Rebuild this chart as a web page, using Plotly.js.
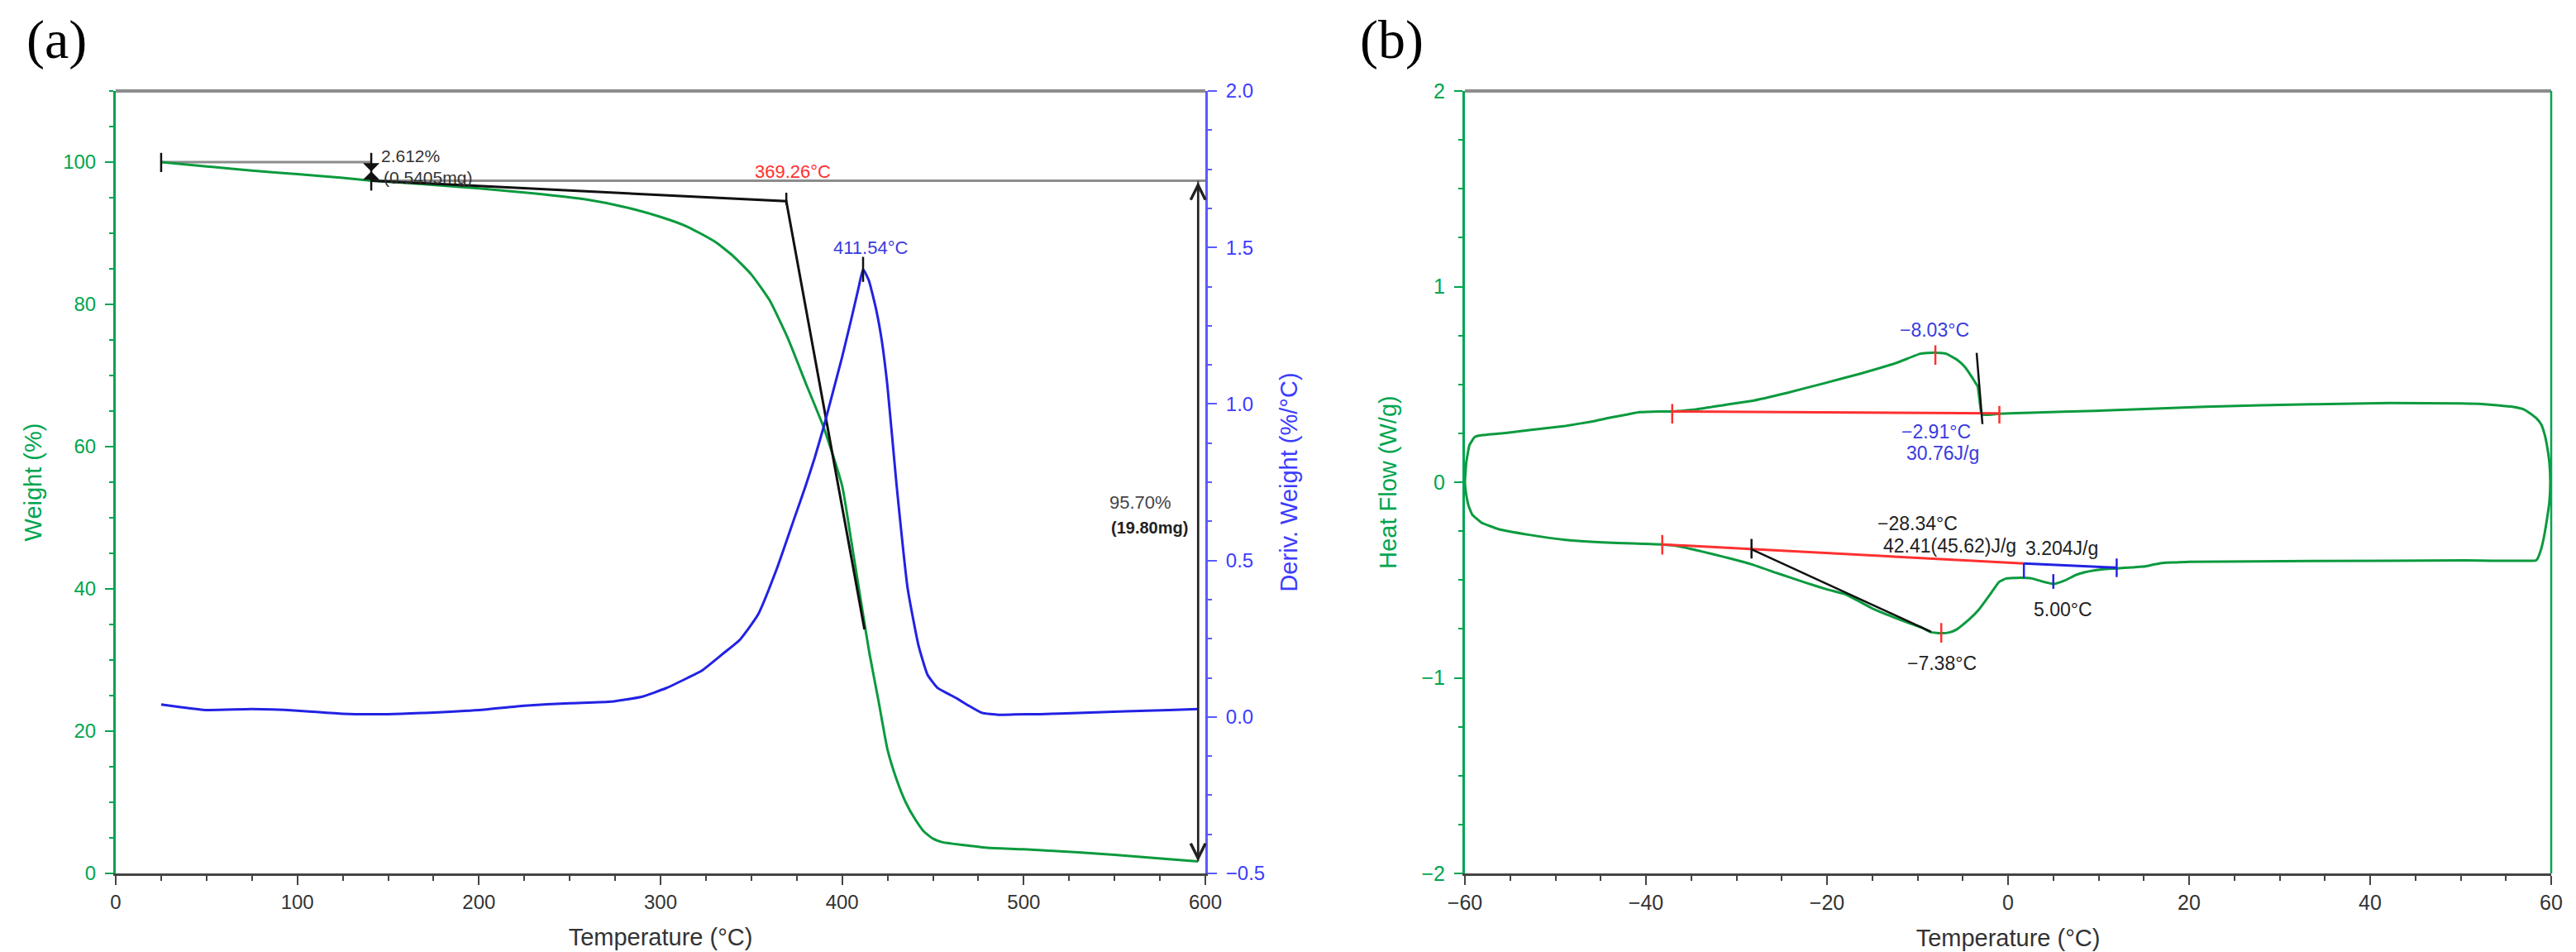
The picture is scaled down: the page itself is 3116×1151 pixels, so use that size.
<!DOCTYPE html>
<html><head><meta charset="utf-8">
<script src="https://cdn.plot.ly/plotly-3.0.1.min.js"></script>
<style>html,body{margin:0;padding:0;background:#fff;} #chart{width:3116px;height:1151px;}</style>
</head><body><div id="chart"></div>
<script>
// ================= DATA =================
// Panel (a): TGA weight curve
const tgaTemp   = [25, 50, 75, 100, 125, 140.7, 170, 200, 230, 260, 280, 300, 315, 330, 340, 350, 360, 370, 380, 390, 400, 405, 410, 415, 420, 425, 430, 435, 440, 445, 450, 455, 460, 470, 480, 500, 520, 540, 560, 580, 596];
const tgaWeight = [100, 99.4, 98.8, 98.3, 97.8, 97.4, 96.9, 96.3, 95.6, 94.7, 93.7, 92.3, 90.9, 88.8, 86.8, 84.2, 80.6, 75.3, 68.9, 62.6, 54.5, 46.8, 38.8, 31.0, 24.3, 17.4, 13.2, 10.0, 7.7, 5.9, 4.9, 4.4, 4.2, 3.9, 3.6, 3.4, 3.1, 2.8, 2.4, 2.0, 1.7];
// Panel (a): DTG derivative curve
const dtgTemp  = [25, 35, 50, 75, 100, 125, 150, 170, 200, 225, 250, 273, 290, 303, 315, 323, 335, 343.6, 353.7, 364, 374, 380, 385, 390, 395, 400, 405, 409, 411.54, 414.7, 418.8, 421.9, 424.9, 430, 436.1, 442, 447, 452.5, 458, 463.5, 470, 477, 486, 495, 509, 530, 556, 580, 596];
const dtgDeriv = [0.040, 0.032, 0.022, 0.025, 0.020, 0.010, 0.009, 0.013, 0.022, 0.036, 0.044, 0.049, 0.065, 0.092, 0.125, 0.149, 0.205, 0.246, 0.327, 0.473, 0.640, 0.740, 0.830, 0.930, 1.040, 1.150, 1.270, 1.370, 1.430, 1.395, 1.300, 1.200, 1.060, 0.740, 0.410, 0.230, 0.135, 0.093, 0.075, 0.058, 0.035, 0.013, 0.007, 0.008, 0.009, 0.013, 0.018, 0.022, 0.025];
// Panel (a): analysis marks
const onsetLineTemp   = [140.7, 369.26, 412.3];
const onsetLineWeight = [97.39, 94.5, 34.3];
const step1LineTemp   = [25, 140.7];
const step1LineWeight = [100, 100];
const step2LineTemp   = [140.7, 600];
const step2LineWeight = [97.39, 97.39];
const step1ArrowTemp  = 140.7;
const step1Levels     = [100, 97.39];
const residueTemp     = 596;
const residueLevels   = [97.39, 1.7];
const tgaMarkTemp = [25, 140.7, 369.26];
const tgaMarkLow  = [98.6, 96.0, 94.0];
const tgaMarkHigh = [101.3, 101.3, 95.7];
const dtgMarkTemp = [411.54];
const dtgMarkLow  = [1.39];
const dtgMarkHigh = [1.47];
// Panel (a): text labels
const tgaLabelText = ['369.26°C', '2.612%', '(0.5405mg)', '95.70%', '(19.80mg)'];
const tgaLabelTemp = [373, 145.2, 146.6, 546.3, 547.2];
const tgaLabelVal  = [98.7, 100.9, 97.8, 52.1, 48.6];
const dtgLabelText = ['411.54°C'];
const dtgLabelTemp = [415.6];
const dtgLabelVal  = [1.50];

// Panel (b): DSC loop (upper branch left->right, then lower branch right->left)
const dscTemp = [-60.0, -59.85, -59.5, -58.9, -58.2, -55.5, -52.9, -48.9, -46, -44, -42, -40.7, -38.5, -37.0, -34.5, -32.6, -28.5, -24.4, -20.3, -16.3, -12.2, -9.7, -8.1, -6.8, -5.6, -4.8, -4.1, -3.6, -3.35, -3.1, -2.9, -1.0, 2.5, 9.6, 21.8, 34.0, 42.2, 50, 52.4, 55.7, 57.0, 57.7, 58.4, 58.9, 59.3, 59.5, 59.8, 59.9,
  59.8, 59.5, 59.2, 58.9, 58.5, 58.3, 50.4, 34.0, 20, 18.5, 17.2, 16.2, 15.2, 13.7, 12.0, 10.5, 9.6, 8.5, 7.5, 6.3, 5.1, 3.9, 2.65, 1.4, -0.2, -1.0, -2.0, -3.2, -4.4, -5.65, -6.5, -7.3, -8.5, -9.5, -12.2, -15, -17.9, -20, -22.4, -25.5, -28.3, -30.5, -32.6, -34.6, -36.6, -38.3, -41.5, -44.8, -48.9, -52.9, -56.2, -58.2, -59.2, -59.6, -59.9, -60.0];
const dscHeat = [0.0, 0.10, 0.19, 0.232, 0.240, 0.252, 0.266, 0.288, 0.31, 0.33, 0.347, 0.358, 0.362, 0.362, 0.372, 0.386, 0.414, 0.457, 0.506, 0.555, 0.612, 0.657, 0.663, 0.656, 0.625, 0.591, 0.545, 0.508, 0.49, 0.40, 0.345, 0.350, 0.355, 0.365, 0.386, 0.399, 0.405, 0.403, 0.400, 0.386, 0.372, 0.351, 0.325, 0.295, 0.24, 0.196, 0.10, 0.0,
  -0.10, -0.199, -0.28, -0.34, -0.39, -0.40, -0.40, -0.403, -0.407, -0.41, -0.412, -0.42, -0.43, -0.435, -0.441, -0.445, -0.45, -0.46, -0.474, -0.502, -0.52, -0.509, -0.492, -0.488, -0.492, -0.51, -0.575, -0.65, -0.706, -0.752, -0.768, -0.772, -0.767, -0.744, -0.698, -0.645, -0.574, -0.548, -0.513, -0.465, -0.42, -0.392, -0.368, -0.346, -0.326, -0.318, -0.313, -0.308, -0.295, -0.269, -0.241, -0.206, -0.165, -0.12, -0.05, 0.0];
// Panel (b): analysis lines
const upperBaseTemp = [-37.1, -0.96];  const upperBaseHeat = [0.362, 0.352];
const lowerRedTemp  = [-38.2, 1.75];   const lowerRedHeat  = [-0.318, -0.415];
const lowerBlueTemp = [1.75, 12.0];    const lowerBlueHeat = [-0.415, -0.437];
const crystTanTemp  = [-3.47, -2.83];  const crystTanHeat  = [0.661, 0.297];
const meltTanTemp   = [-28.34, -8.5];  const meltTanHeat   = [-0.343, -0.765];
const redMarkTemp = [-37.1, -0.96, -8.03, -38.2, -7.38];
const redMarkLow  = [0.30, 0.30, 0.60, -0.37, -0.82];
const redMarkHigh = [0.40, 0.39, 0.70, -0.27, -0.72];
const blueMarkTemp = [1.75, 12.0, 5.0];
const blueMarkLow  = [-0.49, -0.485, -0.545];
const blueMarkHigh = [-0.415, -0.39, -0.47];
const blackMarkTemp = [-28.34];
const blackMarkLow  = [-0.39];
const blackMarkHigh = [-0.29];
// Panel (b): text labels
const dscLabelText   = ['−8.03°C', '−2.91°C', '30.76J/g', '−28.34°C', '42.41(45.62)J/g', '3.204J/g', '5.00°C', '−7.38°C'];
const dscLabelTemp   = [-8.13, -7.95, -7.2, -14.6, -13.97, 5.94, 6.03, -7.3];
const dscLabelHeat   = [0.778, 0.258, 0.148, -0.211, -0.326, -0.338, -0.651, -0.926];
const dscLabelAnchor = ['center', 'center', 'center', 'left', 'left', 'center', 'center', 'center'];
const dscLabelColor  = ['blue', 'blue', 'blue', 'black', 'black', 'black', 'black', 'black'];

// Tick values
const tgaTempTicks   = [0, 100, 200, 300, 400, 500, 600];
const tgaWeightTicks = [0, 20, 40, 60, 80, 100];
const dtgTicks       = [-0.5, 0.0, 0.5, 1.0, 1.5, 2.0];
const dscTempTicks   = [-60, -40, -20, 0, 20, 40, 60];
const dscHeatTicks   = [-2, -1, 0, 1, 2];

// ================= STYLE =================
const FONT = 'Liberation Sans, Arial, sans-serif';
const GREEN_AX = '#00a54f';
const GREEN_LINE = '#0b9a3e';
const BLUE_AX = '#5a5aff';
const BLUE_LINE = '#2222e4';
const BLUE_TXT = '#3a3ae0';
const RED = '#ff3030';
const GRAY = '#8c8c8c';
const DARK = '#444444';
const W = 3116, H = 1151;

function marks(ts, lo, hi) {
  const x = [], y = [];
  ts.forEach((t, i) => { x.push(t, t, null); y.push(lo[i], hi[i], null); });
  return {x, y};
}
function line(x, y, color, width, xa, ya, smooth) {
  const l = {color, width};
  if (smooth) { l.shape = 'spline'; l.smoothing = smooth; }
  return {type: 'scatter', mode: 'lines', x, y, xaxis: xa, yaxis: ya, line: l, hoverinfo: 'skip', cliponaxis: false};
}

const traces = [];
// Panel (a)
traces.push(line(step1LineTemp, step1LineWeight, GRAY, 3, 'x', 'y'));
traces.push(line(step2LineTemp, step2LineWeight, GRAY, 3, 'x', 'y'));
traces.push(line(tgaTemp, tgaWeight, GREEN_LINE, 3, 'x', 'y', 0.5));
traces.push(line(dtgTemp, dtgDeriv, BLUE_LINE, 3, 'x', 'y2', 0.45));
traces.push(line(onsetLineTemp, onsetLineWeight, '#111', 3, 'x', 'y'));
const tm = marks(tgaMarkTemp, tgaMarkLow, tgaMarkHigh);
traces.push(line(tm.x, tm.y, '#111', 2.5, 'x', 'y'));
const dm = marks(dtgMarkTemp, dtgMarkLow, dtgMarkHigh);
traces.push(line(dm.x, dm.y, '#111', 2.5, 'x', 'y2'));
traces.push({type: 'scatter', mode: 'markers', x: [step1ArrowTemp], y: [(step1Levels[0] + step1Levels[1]) / 2],
  xaxis: 'x', yaxis: 'y', marker: {symbol: 'hourglass', size: 20, color: '#111'}, hoverinfo: 'skip', cliponaxis: false});
traces.push(line([residueTemp, residueTemp], residueLevels, '#555', 2.5, 'x', 'y'));
// Panel (b)
traces.push(line(dscTemp, dscHeat, GREEN_LINE, 3, 'x2', 'y3', 0.35));
traces.push(line(upperBaseTemp, upperBaseHeat, RED, 3, 'x2', 'y3'));
traces.push(line(lowerRedTemp, lowerRedHeat, RED, 3, 'x2', 'y3'));
traces.push(line(lowerBlueTemp, lowerBlueHeat, BLUE_LINE, 3, 'x2', 'y3'));
traces.push(line(crystTanTemp, crystTanHeat, '#111', 2.5, 'x2', 'y3'));
traces.push(line(meltTanTemp, meltTanHeat, '#111', 2.5, 'x2', 'y3'));
const rm = marks(redMarkTemp, redMarkLow, redMarkHigh);
traces.push(line(rm.x, rm.y, RED, 2.5, 'x2', 'y3'));
const bm = marks(blueMarkTemp, blueMarkLow, blueMarkHigh);
traces.push(line(bm.x, bm.y, BLUE_LINE, 2.5, 'x2', 'y3'));
const km = marks(blackMarkTemp, blackMarkLow, blackMarkHigh);
traces.push(line(km.x, km.y, '#111', 2.5, 'x2', 'y3'));

// ================= ANNOTATIONS =================
const annotations = [];
annotations.push({xref: 'paper', yref: 'paper', x: 68 / W, y: 1 - 48 / H, xanchor: 'center', yanchor: 'middle', text: '(a)', showarrow: false,
  font: {family: 'Liberation Serif, Times New Roman, serif', size: 66, color: '#000'}});
annotations.push({xref: 'paper', yref: 'paper', x: 1683 / W, y: 1 - 48 / H, xanchor: 'center', yanchor: 'middle', text: '(b)', showarrow: false,
  font: {family: 'Liberation Serif, Times New Roman, serif', size: 66, color: '#000'}});
// residue double arrow
annotations.push({xref: 'x', yref: 'y', axref: 'x', ayref: 'y', x: residueTemp, y: residueLevels[1], ax: residueTemp, ay: residueLevels[0],
  text: '', showarrow: true, arrowside: 'end+start', arrowhead: 5, startarrowhead: 5, arrowsize: 1.4, startarrowsize: 1.4,
  arrowwidth: 2.5, arrowcolor: '#222'});
const tgaColors = [RED, '#333', '#333', '#444', '#222'];
const tgaAnchors = ['center', 'left', 'left', 'left', 'left'];
const tgaSizes = [22, 21, 21, 22, 20];
const tgaBold = [false, false, false, false, true];
tgaLabelText.forEach((t, i) => annotations.push({xref: 'x', yref: 'y', x: tgaLabelTemp[i], y: tgaLabelVal[i],
  text: tgaBold[i] ? '<b>' + t + '</b>' : t, showarrow: false, xanchor: tgaAnchors[i], yanchor: 'middle',
  font: {family: FONT, size: tgaSizes[i], color: tgaColors[i]}}));
dtgLabelText.forEach((t, i) => annotations.push({xref: 'x', yref: 'y2', x: dtgLabelTemp[i], y: dtgLabelVal[i],
  text: t, showarrow: false, xanchor: 'center', yanchor: 'middle', font: {family: FONT, size: 22, color: BLUE_TXT}}));
dscLabelText.forEach((t, i) => annotations.push({xref: 'x2', yref: 'y3', x: dscLabelTemp[i], y: dscLabelHeat[i],
  text: t, showarrow: false, xanchor: dscLabelAnchor[i], yanchor: 'middle',
  font: {family: FONT, size: 23, color: dscLabelColor[i] === 'blue' ? BLUE_TXT : '#222'}}));

// ================= LAYOUT =================
const yDom = [1 - 1056 / H, 1 - 110 / H];
const baseAxis = {showgrid: false, zeroline: false, showline: true, ticks: 'outside', automargin: false, fixedrange: true};
const layout = {
  width: W, height: H, margin: {l: 0, r: 0, t: 0, b: 0},
  paper_bgcolor: '#fff', plot_bgcolor: '#fff', showlegend: false,
  font: {family: FONT},
  xaxis: Object.assign({}, baseAxis, {domain: [140 / W, 1458 / W], anchor: 'y', range: [0, 600], tickvals: tgaTempTicks,
    linecolor: DARK, linewidth: 3, tickcolor: DARK, ticklen: 11, tickwidth: 2, tickfont: {size: 24, color: '#333'},
    minor: {dtick: 25, ticks: 'outside', ticklen: 6, tickwidth: 2, tickcolor: DARK},
    title: {text: 'Temperature (°C)', font: {size: 29, color: '#333'}, standoff: 20}}),
  yaxis: Object.assign({}, baseAxis, {domain: yDom, anchor: 'x', range: [0, 110], tickvals: tgaWeightTicks,
    linecolor: GREEN_AX, linewidth: 3, tickcolor: GREEN_AX, ticklen: 10, tickwidth: 2, tickfont: {size: 24, color: GREEN_AX},
    ticklabelstandoff: 6,
    minor: {dtick: 5, ticks: 'outside', ticklen: 5, tickwidth: 2, tickcolor: GREEN_AX},
    title: {text: 'Weight (%)', font: {size: 29, color: GREEN_AX}, standoff: 18}}),
  yaxis2: Object.assign({}, baseAxis, {overlaying: 'y', side: 'right', anchor: 'x', range: [-0.5, 2.0], tickvals: dtgTicks,
    tickformat: '.1f', linecolor: BLUE_AX, linewidth: 3, tickcolor: BLUE_AX, ticklen: 11, tickwidth: 2,
    tickfont: {size: 24, color: '#3c3cff'}, ticklabelstandoff: 6,
    minor: {dtick: 0.125, ticks: 'outside', ticklen: 5, tickwidth: 2, tickcolor: BLUE_AX},
    title: {text: 'Deriv. Weight (%/°C)', font: {size: 29, color: '#3c3cff'}, standoff: 20}}),
  xaxis2: Object.assign({}, baseAxis, {domain: [1772 / W, 3086 / W], anchor: 'y3', range: [-60, 60], tickvals: dscTempTicks,
    linecolor: DARK, linewidth: 3, tickcolor: DARK, ticklen: 11, tickwidth: 2, tickfont: {size: 25, color: '#333'},
    minor: {dtick: 5, ticks: 'outside', ticklen: 6, tickwidth: 2, tickcolor: DARK},
    title: {text: 'Temperature (°C)', font: {size: 29, color: '#333'}, standoff: 20}}),
  yaxis3: Object.assign({}, baseAxis, {domain: yDom, anchor: 'x2', range: [-2, 2], tickvals: dscHeatTicks,
    linecolor: GREEN_AX, linewidth: 3, tickcolor: GREEN_AX, ticklen: 10, tickwidth: 2, tickfont: {size: 25, color: GREEN_AX},
    ticklabelstandoff: 6,
    minor: {dtick: 0.25, ticks: 'outside', ticklen: 5, tickwidth: 2, tickcolor: GREEN_AX},
    title: {text: 'Heat Flow (W/g)', font: {size: 29, color: GREEN_AX}, standoff: 22}}),
  shapes: [
    {type: 'line', xref: 'x domain', yref: 'y domain', x0: 0, x1: 1, y0: 1, y1: 1, line: {color: GRAY, width: 4}},
    {type: 'line', xref: 'x2 domain', yref: 'y3 domain', x0: 0, x1: 1, y0: 1, y1: 1, line: {color: GRAY, width: 4}},
    {type: 'line', xref: 'x2 domain', yref: 'y3 domain', x0: 1, x1: 1, y0: 0, y1: 1, line: {color: GREEN_AX, width: 2.5}}
  ],
  annotations
};
Plotly.newPlot('chart', traces, layout, {staticPlot: true, displayModeBar: false});
</script>
</body></html>
